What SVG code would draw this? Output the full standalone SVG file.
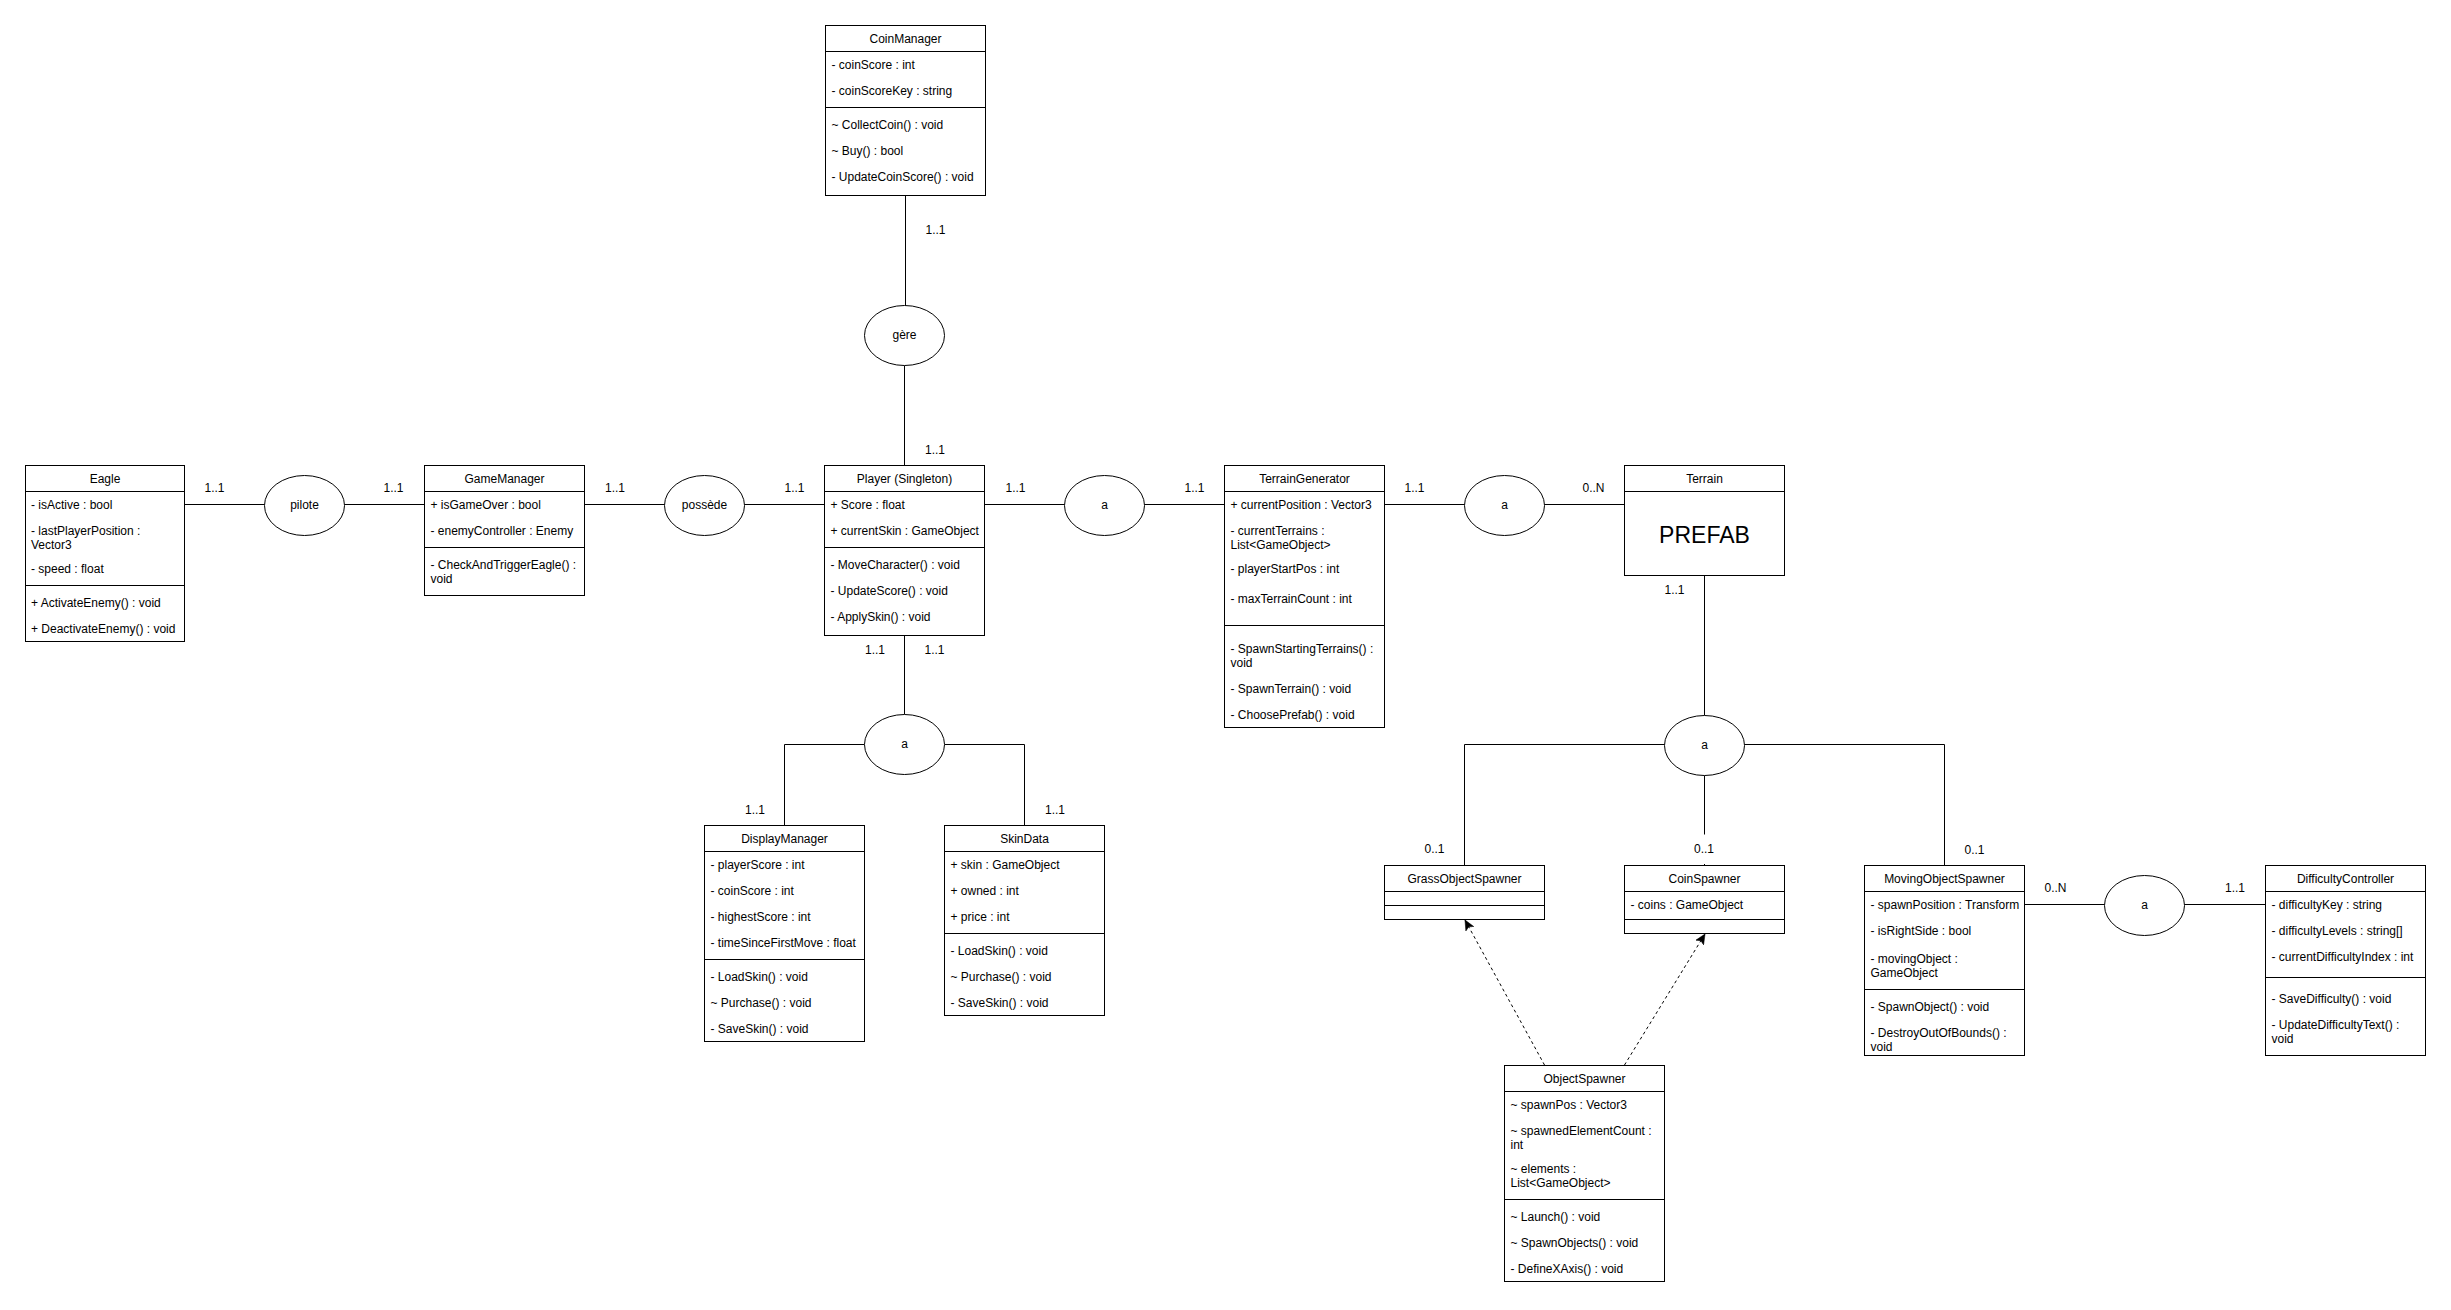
<svg xmlns="http://www.w3.org/2000/svg" width="2451" height="1310" viewBox="0 0 2451 1310">
<style>
text{font-family:"Liberation Sans",Arial,sans-serif;font-size:12px;fill:#000}
.t,.c{text-anchor:middle}
.b{fill:#fff;stroke:#000;stroke-width:1}
.l{fill:none;stroke:#000;stroke-width:1}
.d{fill:none;stroke:#000;stroke-width:1;stroke-dasharray:3 3}
.p{font-size:23px}
</style>
<defs>
<marker id="arrow" markerUnits="userSpaceOnUse" markerWidth="12" markerHeight="10" refX="10" refY="5" orient="auto">
<path d="M10 5 L0 0.5 L2.2 5 L0 9.5 Z" fill="#000" stroke="#000" stroke-width="0.5"/>
</marker>
</defs>
<rect width="2451" height="1310" fill="#fff"/>
<g id="connectors">
<path class="l" d="M905.5 195.5V305.5"/>
<path class="l" d="M904.5 365.5V465.5"/>
<path class="l" d="M184.5 504.5H264.5"/>
<path class="l" d="M344.5 504.5H424.5"/>
<path class="l" d="M584.5 504.5H664.5"/>
<path class="l" d="M744.5 504.5H824.5"/>
<path class="l" d="M984.5 504.5H1064.5"/>
<path class="l" d="M1144.5 504.5H1224.5"/>
<path class="l" d="M1384.5 504.5H1464.5"/>
<path class="l" d="M1544.5 504.5H1624.5"/>
<path class="l" d="M904.5 635.5V714.5"/>
<path class="l" d="M864.5 744.5H784.5V825.5"/>
<path class="l" d="M944.5 744.5H1024.5V825.5"/>
<path class="l" d="M1704.5 575.5V715.5"/>
<path class="l" d="M1664.5 744.5H1464.5V865.5"/>
<path class="l" d="M1744.5 744.5H1944.5V865.5"/>
<path class="l" d="M1704.5 775.5V834.5"/>
<path class="l" d="M1704.5 864V865.5"/>
<path class="l" d="M2024.5 904.5H2104.5"/>
<path class="l" d="M2184.5 904.5H2265.5"/>
<path class="d" d="M1544.5 1065L1465 920" marker-end="url(#arrow)"/>
<path class="d" d="M1624.5 1065L1705 934" marker-end="url(#arrow)"/>
<text x="925.5" y="234">1..1</text>
<text x="925" y="454">1..1</text>
<text x="204.5" y="492">1..1</text>
<text x="383.5" y="492">1..1</text>
<text x="605" y="492">1..1</text>
<text x="784.5" y="492">1..1</text>
<text x="1005.5" y="492">1..1</text>
<text x="1184.5" y="492">1..1</text>
<text x="1404.5" y="492">1..1</text>
<text x="1582.5" y="492">0..N</text>
<text x="1664.5" y="594">1..1</text>
<text x="865" y="654">1..1</text>
<text x="924.5" y="654">1..1</text>
<text x="745" y="814">1..1</text>
<text x="1045" y="814">1..1</text>
<text x="1424.5" y="853">0..1</text>
<text x="1694" y="853">0..1</text>
<text x="1964.5" y="854">0..1</text>
<text x="2044.5" y="892">0..N</text>
<text x="2225" y="892">1..1</text>
</g>
<g id="rel-gere"><ellipse class="b" cx="904.5" cy="335.5" rx="40" ry="30"/><text class="c" x="904.5" y="339">gère</text></g>
<g id="rel-pilote"><ellipse class="b" cx="304.5" cy="505.5" rx="40" ry="30"/><text class="c" x="304.5" y="509">pilote</text></g>
<g id="rel-possede"><ellipse class="b" cx="704.5" cy="505.5" rx="40" ry="30"/><text class="c" x="704.5" y="509">possède</text></g>
<g id="rel-a1"><ellipse class="b" cx="1104.5" cy="505.5" rx="40" ry="30"/><text class="c" x="1104.5" y="509">a</text></g>
<g id="rel-a2"><ellipse class="b" cx="1504.5" cy="505.5" rx="40" ry="30"/><text class="c" x="1504.5" y="509">a</text></g>
<g id="rel-a3"><ellipse class="b" cx="904.5" cy="744.5" rx="40" ry="30"/><text class="c" x="904.5" y="748">a</text></g>
<g id="rel-a4"><ellipse class="b" cx="1704.5" cy="745.5" rx="40" ry="30"/><text class="c" x="1704.5" y="749">a</text></g>
<g id="rel-a5"><ellipse class="b" cx="2144.5" cy="905.5" rx="40" ry="30"/><text class="c" x="2144.5" y="909">a</text></g>
<g id="CoinManager">
<rect class="b" x="825.5" y="25.5" width="160" height="170"/><path class="l" d="M825.5 51.5H985.5M825.5 107.5H985.5"/>
<text class="t" x="905.5" y="43">CoinManager</text>
<text x="831.5" y="69">- coinScore : int</text>
<text x="831.5" y="95">- coinScoreKey : string</text>
<text x="831.5" y="129">~ CollectCoin() : void</text>
<text x="831.5" y="155">~ Buy() : bool</text>
<text x="831.5" y="181">- UpdateCoinScore() : void</text>
</g>
<g id="Eagle">
<rect class="b" x="25.5" y="465.5" width="159" height="176"/><path class="l" d="M25.5 491.5H184.5M25.5 585.5H184.5"/>
<text class="t" x="105" y="483">Eagle</text>
<text x="31" y="509">- isActive : bool</text>
<text x="31" y="535">- lastPlayerPosition :</text>
<text x="31" y="549">Vector3</text>
<text x="31" y="573">- speed : float</text>
<text x="31" y="607">+ ActivateEnemy() : void</text>
<text x="31" y="633">+ DeactivateEnemy() : void</text>
</g>
<g id="GameManager">
<rect class="b" x="424.5" y="465.5" width="160" height="130"/><path class="l" d="M424.5 491.5H584.5M424.5 547.5H584.5"/>
<text class="t" x="504.5" y="483">GameManager</text>
<text x="430.5" y="509">+ isGameOver : bool</text>
<text x="430.5" y="535">- enemyController : Enemy</text>
<text x="430.5" y="569">- CheckAndTriggerEagle() :</text>
<text x="430.5" y="583">void</text>
</g>
<g id="Player">
<rect class="b" x="824.5" y="465.5" width="160" height="170"/><path class="l" d="M824.5 491.5H984.5M824.5 547.5H984.5"/>
<text class="t" x="904.5" y="483">Player (Singleton)</text>
<text x="830.5" y="509">+ Score : float</text>
<text x="830.5" y="535">+ currentSkin : GameObject</text>
<text x="830.5" y="569">- MoveCharacter() : void</text>
<text x="830.5" y="595">- UpdateScore() : void</text>
<text x="830.5" y="621">- ApplySkin() : void</text>
</g>
<g id="TerrainGenerator">
<rect class="b" x="1224.5" y="465.5" width="160" height="262"/><path class="l" d="M1224.5 491.5H1384.5M1224.5 625.5H1384.5"/>
<text class="t" x="1304.5" y="483">TerrainGenerator</text>
<text x="1230.5" y="509">+ currentPosition : Vector3</text>
<text x="1230.5" y="535">- currentTerrains :</text>
<text x="1230.5" y="549">List&lt;GameObject&gt;</text>
<text x="1230.5" y="573">- playerStartPos : int</text>
<text x="1230.5" y="603">- maxTerrainCount : int</text>
<text x="1230.5" y="653">- SpawnStartingTerrains() :</text>
<text x="1230.5" y="667">void</text>
<text x="1230.5" y="693">- SpawnTerrain() : void</text>
<text x="1230.5" y="719">- ChoosePrefab() : void</text>
</g>
<g id="Terrain">
<rect class="b" x="1624.5" y="465.5" width="160" height="110"/><path class="l" d="M1624.5 491.5H1784.5"/>
<text class="t" x="1704.5" y="483">Terrain</text>
<text class="t p" x="1704.5" y="542.5">PREFAB</text>
</g>
<g id="DisplayManager">
<rect class="b" x="704.5" y="825.5" width="160" height="216"/><path class="l" d="M704.5 851.5H864.5M704.5 959.5H864.5"/>
<text class="t" x="784.5" y="843">DisplayManager</text>
<text x="710.5" y="869">- playerScore : int</text>
<text x="710.5" y="895">- coinScore : int</text>
<text x="710.5" y="921">- highestScore : int</text>
<text x="710.5" y="947">- timeSinceFirstMove : float</text>
<text x="710.5" y="981">- LoadSkin() : void</text>
<text x="710.5" y="1007">~ Purchase() : void</text>
<text x="710.5" y="1033">- SaveSkin() : void</text>
</g>
<g id="SkinData">
<rect class="b" x="944.5" y="825.5" width="160" height="190"/><path class="l" d="M944.5 851.5H1104.5M944.5 933.5H1104.5"/>
<text class="t" x="1024.5" y="843">SkinData</text>
<text x="950.5" y="869">+ skin : GameObject</text>
<text x="950.5" y="895">+ owned : int</text>
<text x="950.5" y="921">+ price : int</text>
<text x="950.5" y="955">- LoadSkin() : void</text>
<text x="950.5" y="981">~ Purchase() : void</text>
<text x="950.5" y="1007">- SaveSkin() : void</text>
</g>
<g id="GrassObjectSpawner">
<rect class="b" x="1384.5" y="865.5" width="160" height="54"/><path class="l" d="M1384.5 891.5H1544.5M1384.5 905.5H1544.5"/>
<text class="t" x="1464.5" y="883">GrassObjectSpawner</text>
</g>
<g id="CoinSpawner">
<rect class="b" x="1624.5" y="865.5" width="160" height="68"/><path class="l" d="M1624.5 891.5H1784.5M1624.5 919.5H1784.5"/>
<text class="t" x="1704.5" y="883">CoinSpawner</text>
<text x="1630.5" y="909">- coins : GameObject</text>
</g>
<g id="MovingObjectSpawner">
<rect class="b" x="1864.5" y="865.5" width="160" height="190"/><path class="l" d="M1864.5 891.5H2024.5M1864.5 989.5H2024.5"/>
<text class="t" x="1944.5" y="883">MovingObjectSpawner</text>
<text x="1870.5" y="909">- spawnPosition : Transform</text>
<text x="1870.5" y="935">- isRightSide : bool</text>
<text x="1870.5" y="963">- movingObject :</text>
<text x="1870.5" y="977">GameObject</text>
<text x="1870.5" y="1011">- SpawnObject() : void</text>
<text x="1870.5" y="1037">- DestroyOutOfBounds() :</text>
<text x="1870.5" y="1051">void</text>
</g>
<g id="DifficultyController">
<rect class="b" x="2265.5" y="865.5" width="160" height="190"/><path class="l" d="M2265.5 891.5H2425.5M2265.5 977.5H2425.5"/>
<text class="t" x="2345.5" y="883">DifficultyController</text>
<text x="2271.5" y="909">- difficultyKey : string</text>
<text x="2271.5" y="935">- difficultyLevels : string[]</text>
<text x="2271.5" y="961">- currentDifficultyIndex : int</text>
<text x="2271.5" y="1003">- SaveDifficulty() : void</text>
<text x="2271.5" y="1029">- UpdateDifficultyText() :</text>
<text x="2271.5" y="1043">void</text>
</g>
<g id="ObjectSpawner">
<rect class="b" x="1504.5" y="1065.5" width="160" height="216"/><path class="l" d="M1504.5 1091.5H1664.5M1504.5 1199.5H1664.5"/>
<text class="t" x="1584.5" y="1083">ObjectSpawner</text>
<text x="1510.5" y="1109">~ spawnPos : Vector3</text>
<text x="1510.5" y="1135">~ spawnedElementCount :</text>
<text x="1510.5" y="1149">int</text>
<text x="1510.5" y="1173">~ elements :</text>
<text x="1510.5" y="1187">List&lt;GameObject&gt;</text>
<text x="1510.5" y="1221">~ Launch() : void</text>
<text x="1510.5" y="1247">~ SpawnObjects() : void</text>
<text x="1510.5" y="1273">- DefineXAxis() : void</text>
</g>
</svg>
